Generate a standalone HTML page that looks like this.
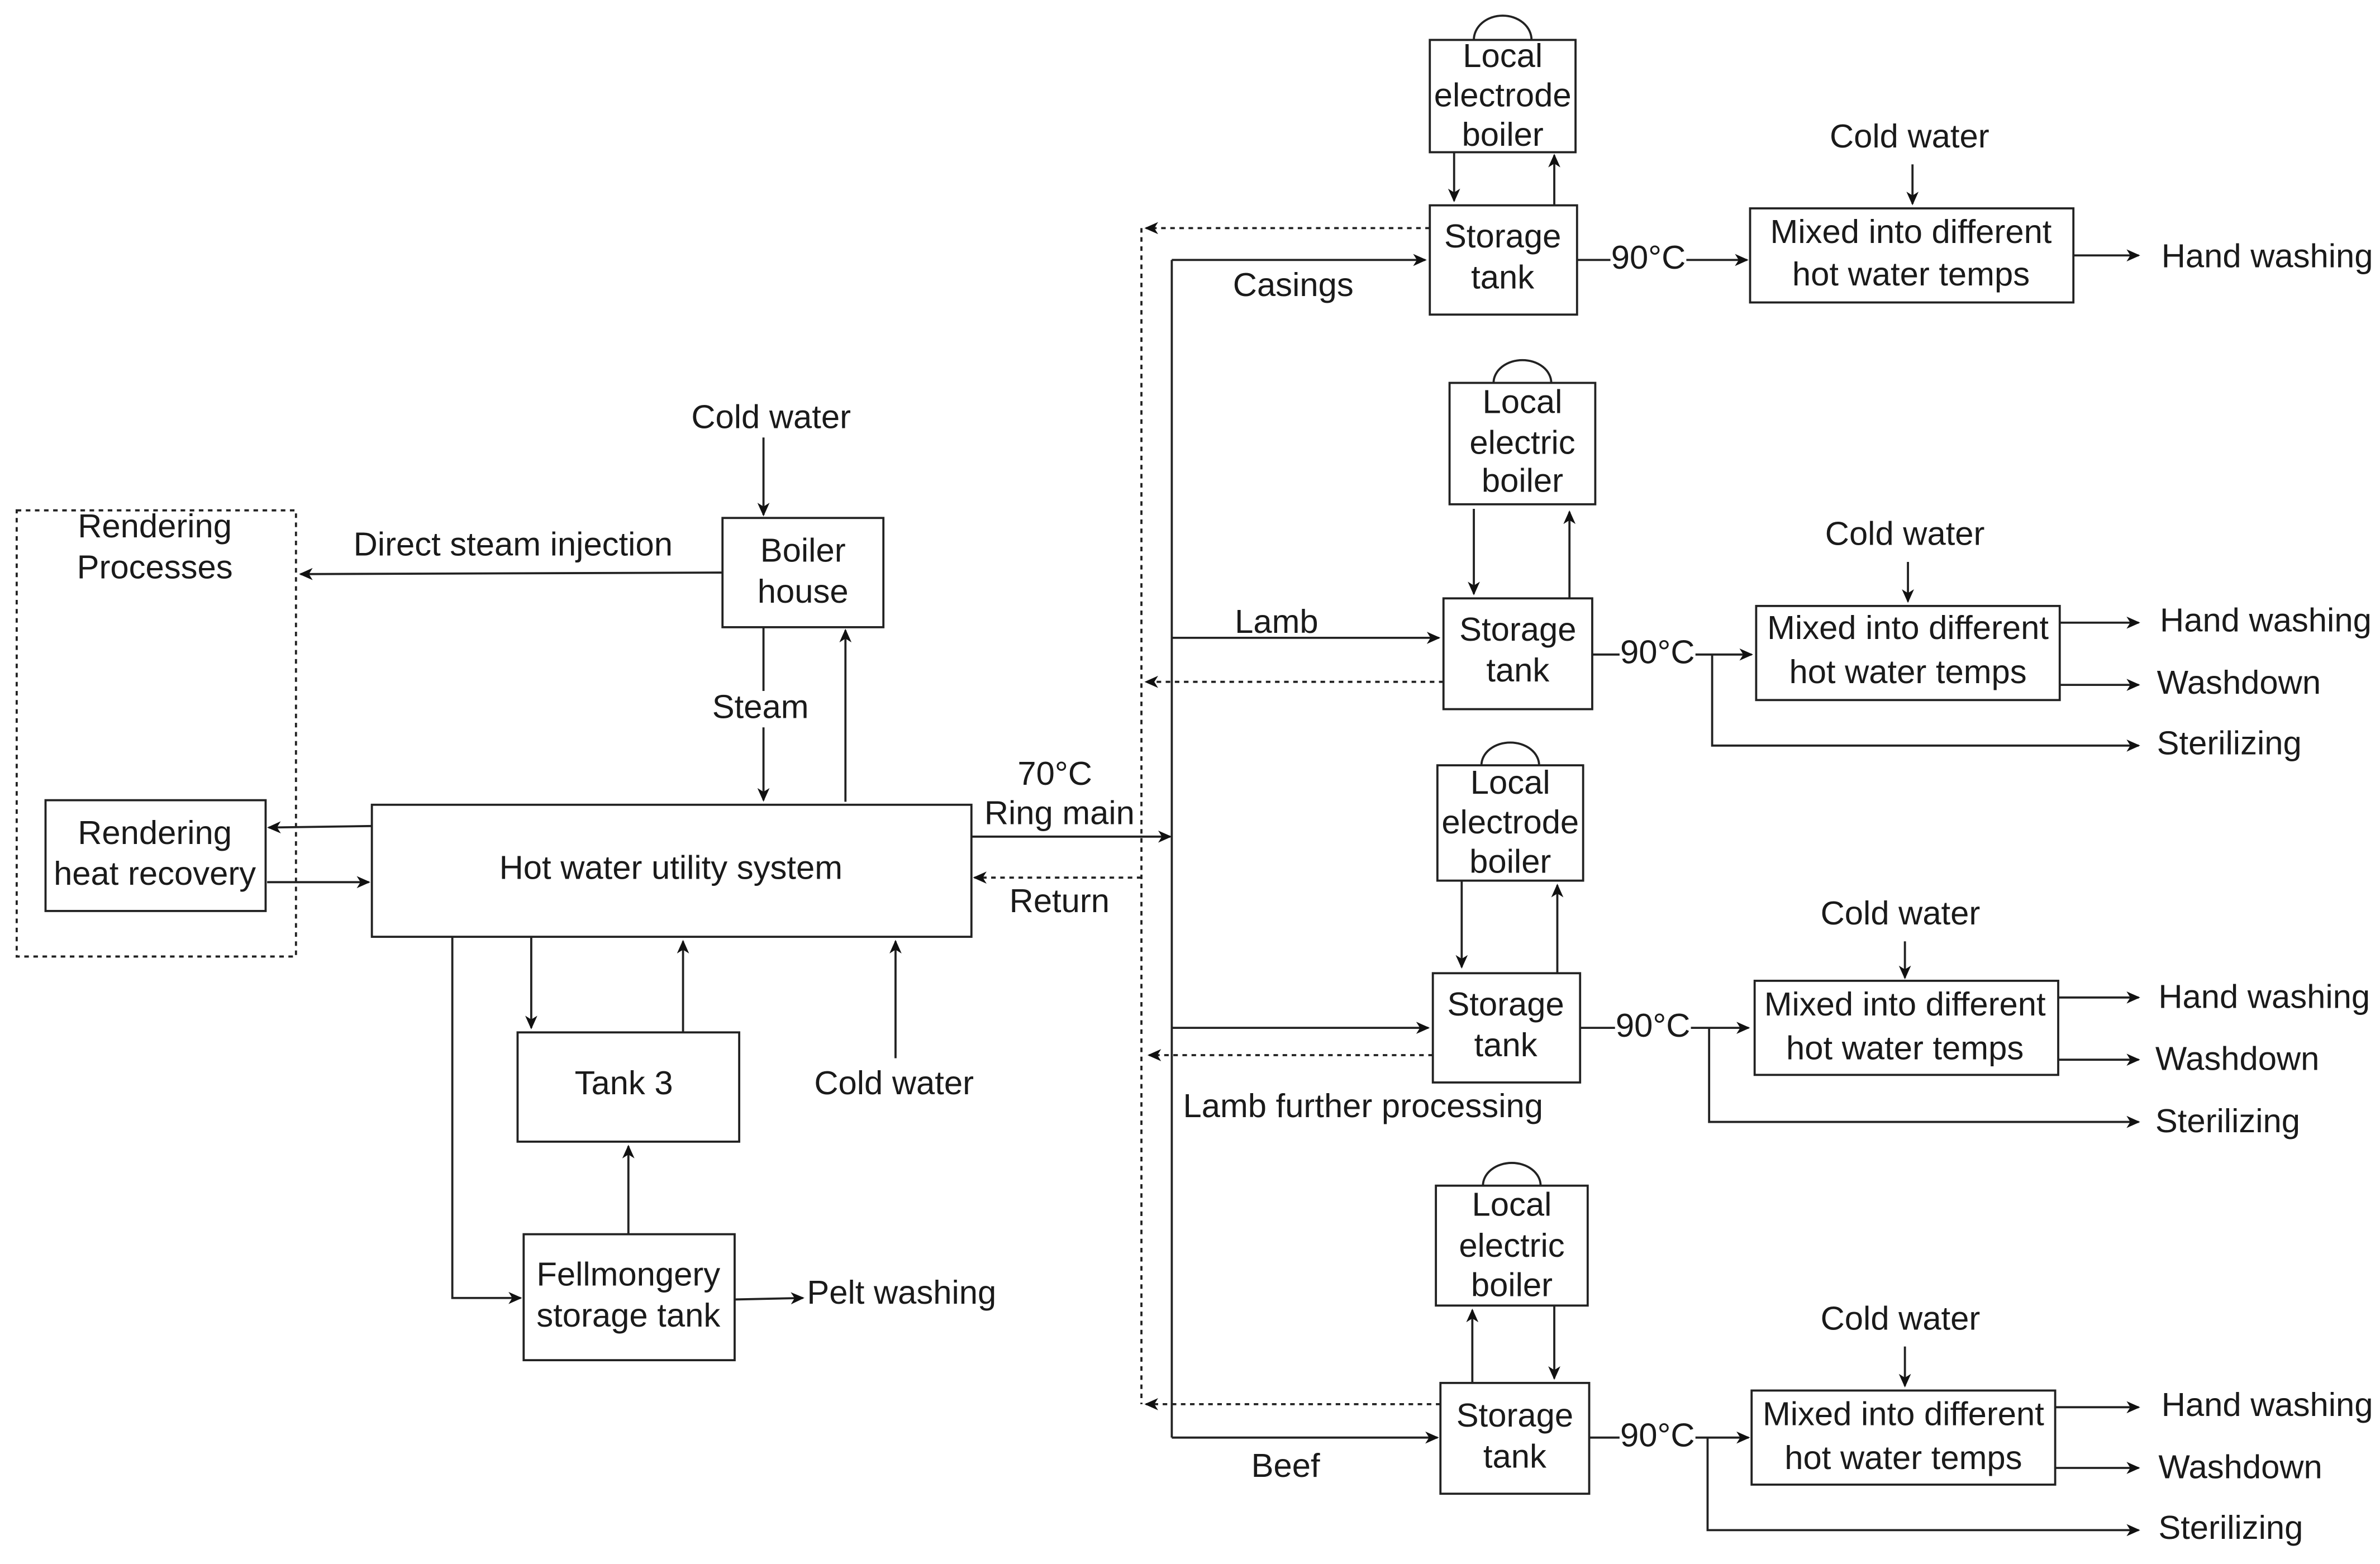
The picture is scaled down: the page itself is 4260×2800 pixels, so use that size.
<!DOCTYPE html>
<html><head><meta charset="utf-8"><style>
html,body{margin:0;padding:0;background:#fff;}
svg{display:block;}
text{font-family:"Liberation Sans",Arial,sans-serif;font-size:22px;fill:#1a1a1a;text-anchor:middle;dominant-baseline:middle;}
.l{text-anchor:start;}
</style></head><body>
<svg width="4260" height="2800" viewBox="0 0 1568 1030" xmlns="http://www.w3.org/2000/svg">
<defs>
<marker id="a" markerWidth="10" markerHeight="10" refX="8" refY="4" orient="auto" markerUnits="userSpaceOnUse"><path d="M0,0 L9,4 L0,8 L2.5,4 z" fill="#111"/></marker>
</defs>
<g fill="none" stroke="#222" stroke-width="1.4">
<rect x="11" y="336" width="184" height="294" stroke-dasharray="3,3"/>
<rect x="30" y="527" width="145" height="73"/>
<rect x="245" y="530" width="395" height="87"/>
<rect x="476" y="341" width="106" height="72"/>
<rect x="341" y="680" width="146" height="72"/>
<rect x="345" y="813" width="139" height="83"/>
<path d="M503,288 V339" marker-end="url(#a)"/>
<path d="M476,377 L198,378" marker-end="url(#a)"/>
<path d="M503,413 V527" marker-end="url(#a)"/>
<path d="M557,528 V415" marker-end="url(#a)"/>
<path d="M245,544 L177,545" marker-end="url(#a)"/>
<path d="M176,581 H243" marker-end="url(#a)"/>
<path d="M350,617 V677" marker-end="url(#a)"/>
<path d="M450,680 V620" marker-end="url(#a)"/>
<path d="M590,697 V620" marker-end="url(#a)"/>
<path d="M298,617 V855 H343" marker-end="url(#a)"/>
<path d="M414,813 V755" marker-end="url(#a)"/>
<path d="M484,856 L529,855" marker-end="url(#a)"/>
<path d="M640,551 H771" marker-end="url(#a)"/>
<path d="M752,578 H642" stroke-dasharray="3,3" marker-end="url(#a)"/>
<path d="M772,171 V947"/>
<path d="M752,150 V925" stroke-dasharray="3,3"/>

<rect x="942" y="135" width="97" height="72"/>
<rect x="942" y="26" width="96" height="74"/>
<path d="M971,26 A19,16 0 0 1 1009,26"/>
<path d="M958,100 V132" marker-end="url(#a)"/>
<path d="M1024,135 V102" marker-end="url(#a)"/>
<path d="M772,171 H939" marker-end="url(#a)"/>
<path d="M942,150 H755" stroke-dasharray="3,3" marker-end="url(#a)"/>
<path d="M1039,171 H1151" marker-end="url(#a)"/>
<rect x="1153" y="137" width="213" height="62"/>
<path d="M1260,108 V134" marker-end="url(#a)"/>
<path d="M1366,168 H1409" marker-end="url(#a)"/>

<rect x="951" y="394" width="98" height="73"/>
<rect x="955" y="252" width="96" height="80"/>
<path d="M984,252 A19,15 0 0 1 1022,252"/>
<path d="M971,335 V391" marker-end="url(#a)"/>
<path d="M1034,394 V337" marker-end="url(#a)"/>
<path d="M772,420 H948" marker-end="url(#a)"/>
<path d="M951,449 H755" stroke-dasharray="3,3" marker-end="url(#a)"/>
<path d="M1049,431 H1154" marker-end="url(#a)"/>
<rect x="1157" y="399" width="200" height="62"/>
<path d="M1257,370 V396" marker-end="url(#a)"/>
<path d="M1357,410 H1409" marker-end="url(#a)"/>
<path d="M1357,451 H1409" marker-end="url(#a)"/>
<path d="M1128,431 V491 H1409" marker-end="url(#a)"/>

<rect x="944" y="641" width="97" height="72"/>
<rect x="947" y="504" width="96" height="76"/>
<path d="M976,504 A19,15 0 0 1 1014,504"/>
<path d="M963,580 V637" marker-end="url(#a)"/>
<path d="M1026,641 V583" marker-end="url(#a)"/>
<path d="M772,677 H941" marker-end="url(#a)"/>
<path d="M944,695 H757" stroke-dasharray="3,3" marker-end="url(#a)"/>
<path d="M1041,677 H1152" marker-end="url(#a)"/>
<rect x="1156" y="646" width="200" height="62"/>
<path d="M1255,620 V644" marker-end="url(#a)"/>
<path d="M1356,657 H1409" marker-end="url(#a)"/>
<path d="M1356,698 H1409" marker-end="url(#a)"/>
<path d="M1126,677 V739 H1409" marker-end="url(#a)"/>

<rect x="949" y="911" width="98" height="73"/>
<rect x="946" y="781" width="100" height="79"/>
<path d="M977,781 A19,15 0 0 1 1015,781"/>
<path d="M970,911 V863" marker-end="url(#a)"/>
<path d="M1024,860 V908" marker-end="url(#a)"/>
<path d="M772,947 H947" marker-end="url(#a)"/>
<path d="M949,925 H755" stroke-dasharray="3,3" marker-end="url(#a)"/>
<path d="M1047,947 H1152" marker-end="url(#a)"/>
<rect x="1154" y="916" width="200" height="62"/>
<path d="M1255,887 V913" marker-end="url(#a)"/>
<path d="M1354,927 H1409" marker-end="url(#a)"/>
<path d="M1354,967 H1409" marker-end="url(#a)"/>
<path d="M1125,947 V1008 H1409" marker-end="url(#a)"/>
</g>

<g>
<rect x="468" y="455" width="68" height="24" fill="#fff"/>
<rect x="1061" y="160" width="50" height="22" fill="#fff"/>
<rect x="1067" y="420" width="50" height="22" fill="#fff"/>
<rect x="1064" y="666" width="50" height="22" fill="#fff"/>
<rect x="1067" y="936" width="50" height="22" fill="#fff"/>
</g>

<text x="102" y="348">Rendering</text>
<text x="102" y="375">Processes</text>
<text x="102" y="550">Rendering</text>
<text x="102" y="577">heat recovery</text>
<text x="442" y="573">Hot water utility system</text>
<text x="529" y="364">Boiler</text>
<text x="529" y="391">house</text>
<text x="508" y="276">Cold water</text>
<text x="338" y="360">Direct steam injection</text>
<text x="501" y="467">Steam</text>
<text x="411" y="715">Tank 3</text>
<text x="589" y="715">Cold water</text>
<text x="414" y="841">Fellmongery</text>
<text x="414" y="868">storage tank</text>
<text x="594" y="853">Pelt washing</text>
<text x="695" y="511">70°C</text>
<text x="698" y="537">Ring main</text>
<text x="698" y="595">Return</text>

<text x="990" y="38">Local</text>
<text x="990" y="64">electrode</text>
<text x="990" y="90">boiler</text>
<text x="990" y="157">Storage</text>
<text x="990" y="184">tank</text>
<text x="852" y="189">Casings</text>
<text x="1086" y="171">90°C</text>
<text x="1259" y="154">Mixed into different</text>
<text x="1259" y="182">hot water temps</text>
<text x="1258" y="91">Cold water</text>
<text x="1424" y="170" class="l">Hand washing</text>

<text x="1003" y="266">Local</text>
<text x="1003" y="293">electric</text>
<text x="1003" y="318">boiler</text>
<text x="1000" y="416">Storage</text>
<text x="1000" y="443">tank</text>
<text x="841" y="411">Lamb</text>
<text x="1092" y="431">90°C</text>
<text x="1257" y="415">Mixed into different</text>
<text x="1257" y="444">hot water temps</text>
<text x="1255" y="353">Cold water</text>
<text x="1423" y="410" class="l">Hand washing</text>
<text x="1421" y="451" class="l">Washdown</text>
<text x="1421" y="491" class="l">Sterilizing</text>

<text x="995" y="517">Local</text>
<text x="995" y="543">electrode</text>
<text x="995" y="569">boiler</text>
<text x="992" y="663">Storage</text>
<text x="992" y="690">tank</text>
<text x="898" y="730">Lamb further processing</text>
<text x="1089" y="677">90°C</text>
<text x="1255" y="663">Mixed into different</text>
<text x="1255" y="692">hot water temps</text>
<text x="1252" y="603">Cold water</text>
<text x="1422" y="658" class="l">Hand washing</text>
<text x="1420" y="699" class="l">Washdown</text>
<text x="1420" y="740" class="l">Sterilizing</text>

<text x="996" y="795">Local</text>
<text x="996" y="822">electric</text>
<text x="996" y="848">boiler</text>
<text x="998" y="934">Storage</text>
<text x="998" y="961">tank</text>
<text x="847" y="967">Beef</text>
<text x="1092" y="947">90°C</text>
<text x="1254" y="933">Mixed into different</text>
<text x="1254" y="962">hot water temps</text>
<text x="1252" y="870">Cold water</text>
<text x="1424" y="927" class="l">Hand washing</text>
<text x="1422" y="968" class="l">Washdown</text>
<text x="1422" y="1008" class="l">Sterilizing</text>
</svg>
</body></html>
